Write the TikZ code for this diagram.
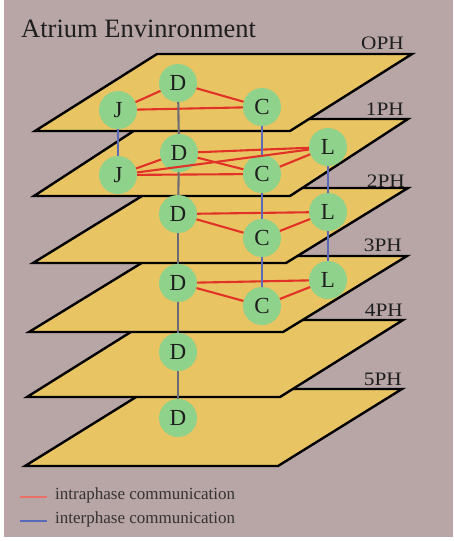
\documentclass[tikz,border=0pt]{standalone}
\usepackage{fontspec}
\setmainfont{Liberation Serif}
\definecolor{bgc}{RGB}{184,166,167}
\definecolor{planec}{RGB}{233,196,98}
\definecolor{nodec}{RGB}{143,210,140}
\definecolor{intra}{RGB}{226,50,40}
\definecolor{inter}{RGB}{90,105,185}
\definecolor{dcol}{RGB}{105,108,120}
\definecolor{txt}{RGB}{30,30,30}
\newcommand\phplane[6]{%
  \draw[planebox] (#1,#5) -- (#2,#5) -- (#3,#4) -- ({#3-#2+#1},#4) -- cycle;}
\begin{document}
\begin{tikzpicture}[x=1pt,y=-1pt,
  planebox/.style={fill=planec,draw=black,line width=2.4pt,line join=miter},
  agent/.style={circle,fill=nodec,minimum size=38pt,inner sep=0pt,text=txt,font=\fontsize{23}{23}\selectfont},
  intraline/.style={draw=intra,line width=2.1pt},
  interline/.style={draw=inter,line width=2.1pt},
  dline/.style={draw=dcol,line width=2.1pt},
  phlabel/.style={anchor=base east,inner sep=0pt,text=txt,font=\fontsize{19}{19}\selectfont},
  legtext/.style={anchor=base west,inner sep=0pt,text=txt!85!bgc,font=\fontsize{17}{17}\selectfont}]
\fill[white] (0,0) rectangle (453,541);
\fill[bgc] (4,0) rectangle (453,537);
\useasboundingbox (0,0) rectangle (453,541);
% title
\node[anchor=base west,inner sep=0pt,text=txt,font=\fontsize{26.5}{28}\selectfont] (title) at (21,37) {Atrium Envinronment};
% planes, bottom to top
\phplane{25}{278}{402}{389}{466}{5PH}
\phplane{27}{280}{403}{320}{397}{4PH}
\phplane{29}{283}{407}{256}{332}{3PH}
\phplane{33}{286}{408}{188}{263}{2PH}
\phplane{34}{290}{408}{119}{196}{1PH}
\phplane{35}{290}{412}{54}{131}{OPH}
% plane labels
\node[phlabel] (lab0) at (404,49) {\scalebox{1.12}[1]{OPH}};
\node[phlabel] (lab1) at (404,115) {\scalebox{1.12}[1]{1PH}};
\node[phlabel] (lab2) at (405,187) {\scalebox{1.12}[1]{2PH}};
\node[phlabel] (lab3) at (402,251) {\scalebox{1.12}[1]{3PH}};
\node[phlabel] (lab4) at (403,316) {\scalebox{1.12}[1]{4PH}};
\node[phlabel] (lab5) at (402,385) {\scalebox{1.12}[1]{5PH}};
% agents
\node[agent] (J0) at (118,110) {J};
\node[agent] (D0) at (178,83) {D};
\node[agent] (C0) at (262,107) {C};
\node[agent] (J1) at (118,175) {J};
\node[agent] (D1) at (179,153) {D};
\node[agent] (C1) at (262,174) {C};
\node[agent] (L1) at (328,147) {L};
\node[agent] (D2) at (178,214) {D};
\node[agent] (C2) at (262,238) {C};
\node[agent] (L2) at (328,212) {L};
\node[agent] (D3) at (178,283) {D};
\node[agent] (C3) at (262,306) {C};
\node[agent] (L3) at (328,280) {L};
\node[agent] (D4) at (178,352) {D};
\node[agent] (D5) at (178,418) {D};
% intraphase connectors
\draw[intraline] (J0) -- (D0);
\draw[intraline] (D0) -- (C0);
\draw[intraline] (J0) -- (C0);
\draw[intraline] (J1) -- (D1);
\draw[intraline] (J1) -- (C1);
\draw[intraline] (J1) -- (L1);
\draw[intraline] (D1) -- (C1);
\draw[intraline] (D1) -- (L1);
\draw[intraline] (C1) -- (L1);
\draw[intraline] (D2) -- (L2);
\draw[intraline] (D2) -- (C2);
\draw[intraline] (C2) -- (L2);
\draw[intraline] (D3) -- (L3);
\draw[intraline] (D3) -- (C3);
\draw[intraline] (C3) -- (L3);
% interphase connectors
\draw[interline] (J0) -- (J1);
\draw[interline] (C0) -- (C1);
\draw[interline] (C1) -- (C2);
\draw[interline] (C2) -- (C3);
\draw[interline] (L1) -- (L2);
\draw[interline] (L2) -- (L3);
\draw[dline] (D0) -- (D1);
\draw[dline] (D1) -- (D2);
\draw[dline] (D2) -- (D3);
\draw[dline] (D3) -- (D4);
\draw[dline] (D4) -- (D5);
% legend
\coordinate (ra) at (20,497);
\coordinate (rb) at (47,497);
\coordinate (ba) at (20,521);
\coordinate (bb) at (47,521);
\draw[intraline,draw=intra!70!white] (ra) -- (rb);
\draw[interline] (ba) -- (bb);
\node[legtext] (leg1) at (55,499) {intraphase communication};
\node[legtext] (leg2) at (55,523) {interphase communication};
\end{tikzpicture}
\end{document}
